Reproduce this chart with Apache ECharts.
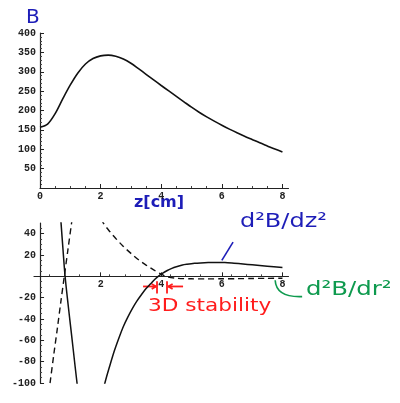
<!DOCTYPE html>
<html>
<head>
<meta charset="utf-8">
<script src="https://cdn.jsdelivr.net/npm/echarts@6/dist/echarts.min.js"></script>
<style>html,body{margin:0;padding:0;background:#fff}#c{width:400px;height:403px}</style>
</head>
<body>
<div id="c"></div>
<script>
// ---- data ----
const zB = [0,0.25,0.5,0.75,1,1.25,1.5,1.75,2,2.25,2.5,2.75,3,3.25,3.5,3.75,4,4.25,4.5,4.75,5,5.25,5.5,5.75,6,6.25,6.5,6.75,7,7.25,7.5,7.75,8];
const B  = [157,165,192,230,266,297,320,334,341,343,340,333,322,308,293.5,279,264.5,250.5,236.5,222.5,208.5,195.5,183.5,172.5,162,152,142.5,133.5,125,116.5,108.5,100.5,93];

const zDz    = [0.55,0.62,0.69,0.76,0.82,0.9,1.0,1.1,1.22,1.35,1.5,1.7,1.85,2.0,2.14,2.3,2.45,2.6,2.75,2.9,3.05,3.2,3.35,3.5,3.65,3.8,3.9,4.05,4.2,4.35,4.5,4.7,4.85,5.1,5.3,5.55,5.8,6.1,6.4,6.7,7.0,7.5,8.0];
const d2Bdz2 = [105,78,51,24,2,-20,-45,-70,-100,-128,-150,-158,-145,-117,-100,-84,-70,-58,-47,-38,-30,-23,-17,-11.5,-7,-2.5,0,3,5.5,7.5,9,10.6,11.3,12.2,12.6,12.9,13,12.9,12.3,11.6,10.8,9.5,8.3];

const zDr    = [0.2,0.33,0.45,0.57,0.69,0.8,0.92,1.04,1.15,1.3,1.5,1.7,1.9,2.1,2.3,2.5,2.75,3.0,3.25,3.5,3.75,4.0,4.2,4.5,5,5.5,6,6.5,7,7.5,8];
const d2Bdr2 = [-128,-100,-74,-49,-23,0,25,50,72,92,100,82,60,49.5,42,35.5,28,21.5,15.5,10.5,6,2,-0.5,-1.8,-2.3,-2.4,-2.3,-2.2,-2,-1.9,-1.8];

const topXTicks = [0,2,4,6,8];
const topYTicks = [50,100,150,200,250,300,350,400];
const botXTicks = [2,4,6,8];
const botYTicks = [-100,-80,-60,-40,-20,20,40];

const stabilityZ = [3.86, 4.19];

// ---- chart ----
const chart = echarts.init(document.getElementById('c'), null, {renderer:'canvas'});
const pair = (xs, ys) => xs.map((x,i)=>[x, ys[i]]);
const labelFont = {fontFamily:'Liberation Mono', fontWeight:'bold', fontSize:10, color:'#222'};
const axLine = {show:true, onZero:false, lineStyle:{color:'#222', width:1.2}};
function fmt(list){ return v => list.includes(Math.round(v*1000)/1000) ? String(v) : ''; }

const g1 = {left:34, top:223, width:254.5, height:160};
const xMin1 = -0.2, xMax1 = 8.2, yMin1 = -100, yMax1 = 50;
// shift bottom axes so they cross at the origin (Mathematica style)
const xOffset = -g1.height * (0 - yMin1) / (yMax1 - yMin1);
const yOffset = -g1.width * (0 - xMin1) / (xMax1 - xMin1);

chart.setOption({
  animation:false,
  backgroundColor:'#fff',
  grid:[
    {left:40, top:33, width:248.5, height:155},
    g1
  ],
  xAxis:[
    {type:'value', gridIndex:0, min:0, max:8.2, interval:2,
     axisLine:axLine, splitLine:{show:false},
     axisTick:{show:true, inside:true, length:4, customValues:topXTicks, lineStyle:{color:'#222'}},
     minorTick:{show:true, splitNumber:4, length:2, lineStyle:{color:'#444'}},
     axisLabel:Object.assign({margin:3, customValues:topXTicks, formatter:fmt(topXTicks)}, labelFont)},
    {type:'value', gridIndex:1, min:xMin1, max:xMax1, interval:2, position:'bottom', offset:xOffset,
     axisLine:axLine, splitLine:{show:false},
     axisTick:{show:true, inside:true, length:4, customValues:botXTicks, lineStyle:{color:'#222'}},
     minorTick:{show:true, splitNumber:4, length:2, lineStyle:{color:'#444'}},
     axisLabel:Object.assign({margin:3, customValues:botXTicks, formatter:fmt(botXTicks)}, labelFont)}
  ],
  yAxis:[
    {type:'value', gridIndex:0, min:0, max:400, interval:50,
     axisLine:axLine, splitLine:{show:false},
     axisTick:{show:true, inside:true, length:4, lineStyle:{color:'#222'}},
     minorTick:{show:true, splitNumber:5, length:2, lineStyle:{color:'#444'}},
     axisLabel:Object.assign({margin:4, customValues:topYTicks, formatter:fmt(topYTicks)}, labelFont)},
    {type:'value', gridIndex:1, min:yMin1, max:yMax1, interval:20, position:'left', offset:yOffset,
     axisLine:axLine, splitLine:{show:false},
     axisTick:{show:true, inside:true, length:4, customValues:[-100,-80,-60,-40,-20,0,20,40], lineStyle:{color:'#222'}},
     minorTick:{show:true, splitNumber:4, length:2, lineStyle:{color:'#444'}},
     axisLabel:Object.assign({margin:4, customValues:botYTicks, formatter:fmt(botYTicks)}, labelFont)}
  ],
  series:[
    {type:'line', xAxisIndex:0, yAxisIndex:0, data:pair(zB,B), smooth:0.3, showSymbol:false,
     lineStyle:{color:'#111', width:1.6}},
    {type:'line', xAxisIndex:1, yAxisIndex:1, data:pair(zDz,d2Bdz2), smooth:0.3, showSymbol:false, clip:true,
     lineStyle:{color:'#111', width:1.5}},
    {type:'line', xAxisIndex:1, yAxisIndex:1, data:pair(zDr,d2Bdr2), smooth:0.3, showSymbol:false, clip:true,
     lineStyle:{color:'#111', width:1.4, type:[6,4]}}
  ]
});

// ---- hand-drawn annotations positioned via the axes ----
const P = (z,v) => chart.convertToPixel({gridIndex:1}, [z,v]);
const red = '#ff1c1c', blue = '#1d1db8', green = '#0e9a4e';
const g = [];
function line(a,b,color,w){ g.push({type:'line', shape:{x1:a[0],y1:a[1],x2:b[0],y2:b[1]}, style:{stroke:color, lineWidth:w||1.8}}); }
function arrow(a,b,color){
  line(a,b,color,1.8);
  const ang = Math.atan2(b[1]-a[1], b[0]-a[0]);
  const L=5;
  line(b,[b[0]-L*Math.cos(ang-0.5), b[1]-L*Math.sin(ang-0.5)],color,1.8);
  line(b,[b[0]-L*Math.cos(ang+0.5), b[1]-L*Math.sin(ang+0.5)],color,1.8);
}
line(P(stabilityZ[0],-4.5), P(stabilityZ[0],-16), red, 1.8);
line(P(stabilityZ[1],-4.5), P(stabilityZ[1],-16), red, 1.8);
arrow(P(3.4,-9.5), P(stabilityZ[0]-0.03,-9.5), red);
arrow(P(4.72,-9.5), P(stabilityZ[1]+0.04,-9.5), red);
line(P(6.0,15), P(6.37,32), blue, 1.6);
const s = P(7.76,-3.7), e = P(8.65,-19);
g.push({type:'bezierCurve', shape:{x1:s[0],y1:s[1],x2:e[0],y2:e[1],cpx1:s[0]+1,cpy1:e[1]+1}, style:{stroke:green, lineWidth:1.6, fill:null}});

const hand = 'DejaVu Sans';
function txt(t, x, y, color, font, sx){
  g.push({type:'text', x:x, y:y, scaleX:sx||1, style:{text:t, fill:color, font:font, x:0, y:0, verticalAlign:'top', align:'left'}});
}
txt('B', 26, 8, blue, '20px '+hand);
txt('z[cm]', 134, 195, blue, 'bold 16px '+hand);
txt('d²B/dz²', 240, 212, blue, '20px '+hand, 1.2);
txt('d²B/dr²', 306, 280, green, '20px '+hand, 1.22);
txt('3D stability', 148, 297, red, '18px '+hand, 1.2);

chart.setOption({graphic:g});
</script>
</body>
</html>
